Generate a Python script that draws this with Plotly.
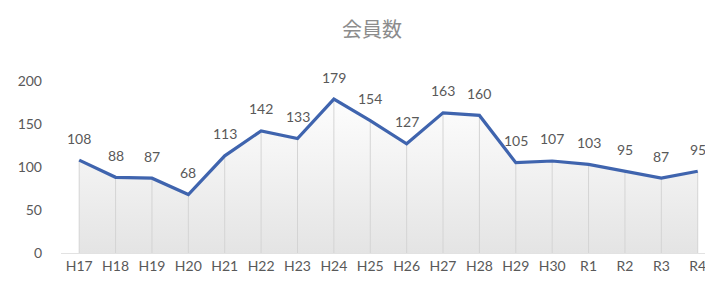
import plotly.graph_objects as go

categories = ["H17", "H18", "H19", "H20", "H21", "H22", "H23", "H24", "H25",
              "H26", "H27", "H28", "H29", "H30", "R1", "R2", "R3", "R4"]
members = [108, 88, 87, 68, 113, 142, 133, 179, 154, 127, 163, 160, 105, 107, 103, 95, 87, 95]
y_ticks = [0, 50, 100, 150, 200]

label_color = "#595959"
line_color = "#3f64ae"

fig = go.Figure()
fig.add_trace(go.Scatter(
    x=categories, y=members, mode="lines",
    line=dict(color=line_color, width=3.2),
    fill="tozeroy",
    fillgradient=dict(type="vertical",
                      colorscale=[[0, "#e4e4e4"], [1, "#ffffff"]],
                      start=0, stop=190),
    error_y=dict(type="data", symmetric=False, array=[0] * len(members),
                 arrayminus=members, width=0, thickness=1, color="#d4d4d4"),
    hoverinfo="skip", showlegend=False,
))

for c, v in zip(categories, members):
    fig.add_annotation(x=c, y=v, text=str(v), showarrow=False, yshift=22,
                       font=dict(family="Lato, sans-serif", size=14, color=label_color))

fig.update_layout(
    width=705, height=277,
    margin=dict(l=53, r=0, t=73, b=32, autoexpand=False),
    paper_bgcolor="white", plot_bgcolor="white",
    title=dict(text="会員数", x=364 / 705, xanchor="center", y=1 - 22 / 277, yanchor="middle",
               font=dict(family="Noto Sans CJK JP", size=20, color="#8c8c8c")),
    xaxis=dict(type="category", range=[-0.5, 17.42], showgrid=False, automargin=False,
               showline=True, linecolor="#e2e2e2", linewidth=1,
               ticks="", tickfont=dict(family="Lato, sans-serif", size=14, color=label_color),
               fixedrange=True),
    yaxis=dict(range=[0, 200], tickvals=y_ticks, showgrid=False, zeroline=False,
               ticks="", ticklabelstandoff=18, automargin=False,
               tickfont=dict(family="Lato, sans-serif", size=14, color=label_color),
               fixedrange=True),
)

fig.write_html("out.html")
